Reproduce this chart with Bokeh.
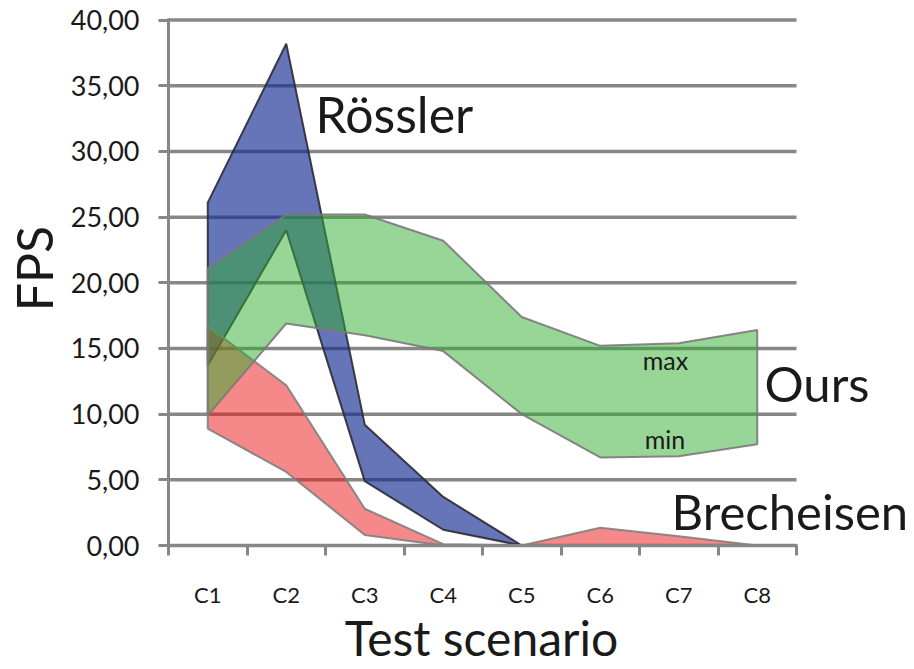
import math
from bokeh.plotting import figure
from bokeh.models import Range1d, FixedTicker, Label
from bokeh.embed import file_html
from bokeh.resources import INLINE

# ---- data ----
categories = ["C1", "C2", "C3", "C4", "C5", "C6", "C7", "C8"]
rossler_max = [26.1, 38.2, 9.2, 3.7, 0.0, 0.0, 0.0, 0.0]
rossler_min = [13.7, 24.0, 4.9, 1.2, 0.0, 0.0, 0.0, 0.0]
ours_max = [21.1, 25.2, 25.2, 23.2, 17.4, 15.2, 15.4, 16.4]
ours_min = [9.9, 16.9, 16.0, 14.8, 10.0, 6.7, 6.8, 7.7]
brech_max = [16.7, 12.2, 2.8, 0.1, 0.0, 1.35, 0.7, 0.0]
brech_min = [8.9, 5.6, 0.8, 0.0, 0.0, 0.0, 0.0, 0.0]
y_ticks = [0, 5, 10, 15, 20, 25, 30, 35, 40]
y_tick_labels = ["0,00", "5,00", "10,00", "15,00", "20,00", "25,00", "30,00", "35,00", "40,00"]

FONT = "Lato"
TXT = "#1a1a1a"
GRAY = "#878787"

# layout: the frame fills the whole canvas; axes are pinned at 0
W, H = 910, 667
X0, Y0 = 168.0, 545.0          # screen position of (0, 0)
SX = 628.0 / len(categories)   # px per category
SY = 525.4 / 40.0              # px per FPS unit

xc = [i + 0.5 for i in range(len(categories))]

p = figure(width=W, height=H,
           x_range=Range1d(-X0 / SX, (W - X0) / SX),
           y_range=Range1d(-(H - Y0) / SY, Y0 / SY),
           output_backend="svg", toolbar_location=None,
           min_border=0, min_border_left=0, min_border_right=0,
           min_border_top=0, min_border_bottom=0)
p.outline_line_color = None
p.background_fill_color = "white"
p.border_fill_color = "white"
p.xgrid.visible = False
p.ygrid.visible = False

# horizontal grid lines at the y ticks, spanning the categories
p.segment(x0=[0] * len(y_ticks), x1=[len(categories)] * len(y_ticks),
          y0=y_ticks, y1=y_ticks, line_color=GRAY, line_width=3.5)

# y axis
ya = p.yaxis[0]
ya.fixed_location = 0
ya.bounds = (-0.25, 40.15)
ya.ticker = FixedTicker(ticks=y_ticks)
ya.major_label_overrides = {t: l for t, l in zip(y_ticks, y_tick_labels)}
ya.axis_line_color = GRAY
ya.axis_line_width = 3
ya.major_tick_line_color = GRAY
ya.major_tick_line_width = 3
ya.major_tick_out = 10
ya.major_tick_in = 0
ya.minor_tick_line_color = None
ya.major_label_text_font = FONT
ya.major_label_text_font_size = "27px"
ya.major_label_text_color = TXT
ya.major_label_standoff = 19

# x axis: labels at category centres, tick marks at category boundaries
xa = p.xaxis[0]
xa.fixed_location = 0
xa.bounds = (-0.01, len(categories) + 0.01)
xa.ticker = FixedTicker(ticks=xc, minor_ticks=list(range(len(categories) + 1)))
xa.major_label_overrides = {c: l for c, l in zip(xc, categories)}
xa.axis_line_color = GRAY
xa.axis_line_width = 3
xa.major_tick_line_color = None
xa.major_tick_out = 0
xa.major_tick_in = 0
xa.minor_tick_line_color = GRAY
xa.minor_tick_line_width = 3
xa.minor_tick_out = 10
xa.minor_tick_in = 0
xa.major_label_text_font = FONT
xa.major_label_text_font_size = "22px"
xa.major_label_text_color = TXT
xa.major_label_standoff = 25


def band(upper, lower, fill, alpha, line_color):
    xs = xc + xc[::-1]
    ys = list(upper) + list(lower)[::-1]
    p.patch(xs, ys, fill_color=fill, fill_alpha=alpha,
            line_color=line_color, line_width=2, line_alpha=0.9)


band(rossler_max, rossler_min, "#142992", 0.65, "#2b2b33")
band(brech_max, brech_min, "#eb1111", 0.5, "#808080")
band(ours_max, ours_min, "#31ad31", 0.5, "#7a7a7a")


# annotations, positioned in screen pixels and converted to data units
def lab(px, py, text, size, align="left", baseline="alphabetic", angle=0.0):
    p.add_layout(Label(x=(px - X0) / SX, y=(Y0 - py) / SY, text=text,
                       text_font=FONT, text_font_size=f"{size}px",
                       text_color=TXT, text_align=align, text_baseline=baseline,
                       angle=angle))


lab(315, 132 - 18.5, "Rössler", 50)
lab(764, 400 - 18, "Ours", 49)
lab(671, 528 - 18, "Brecheisen", 49)
lab(665, 369 - 9.3, "max", 25, align="center")
lab(664.5, 448 - 9.3, "min", 25, align="center")
lab(481, 655 - 17.7, "Test scenario", 48, align="center")
lab(52 - 18.5, 268, "FPS", 50, align="center", angle=math.pi / 2)

open("out.html", "w").write(file_html(p, INLINE))
